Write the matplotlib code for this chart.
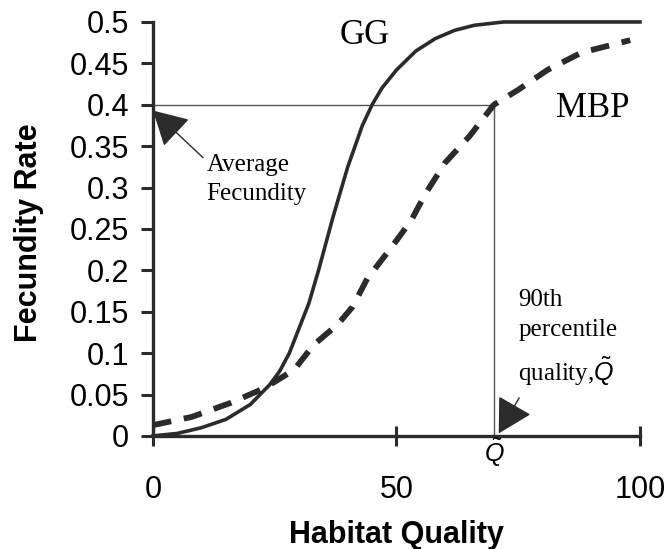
#!/usr/bin/env python3
import matplotlib

matplotlib.use("Agg")
import matplotlib.pyplot as plt

# fecundity vs habitat quality, two models
quality_gg = [0, 5, 10, 15, 20, 24, 26, 28, 30, 32, 34, 37, 40, 43, 45, 47, 50, 54, 58, 62, 66, 72, 80, 90, 100]
fecund_gg = [0.0, 0.003, 0.01, 0.02, 0.038, 0.062, 0.078, 0.1, 0.13, 0.16, 0.2, 0.265, 0.325, 0.375, 0.4,
             0.42, 0.442, 0.465, 0.48, 0.49, 0.496, 0.5, 0.5, 0.5, 0.5]

quality_mbp = [0, 8, 16, 23, 29, 33, 38, 41, 44, 49, 53, 56, 60, 65, 70, 75, 81, 88, 98]
fecund_mbp = [0.013, 0.023, 0.04, 0.058, 0.08, 0.11, 0.135, 0.156, 0.19, 0.228, 0.26, 0.293, 0.33,
              0.362, 0.4, 0.418, 0.442, 0.463, 0.478]

avg_fecundity = 0.4
q90 = 70

xticks = [0, 50, 100]
yticks = [0, 0.05, 0.1, 0.15, 0.2, 0.25, 0.3, 0.35, 0.4, 0.45, 0.5]
ytick_labels = ["0", "0.05", "0.1", "0.15", "0.2", "0.25", "0.3", "0.35", "0.4", "0.45", "0.5"]

plt.rcParams["font.family"] = ["Liberation Sans", "DejaVu Sans"]
plt.rcParams["mathtext.fontset"] = "custom"
plt.rcParams["mathtext.it"] = "Liberation Sans:italic"
plt.rcParams["mathtext.rm"] = "Liberation Sans"

fig = plt.figure(figsize=(6.68, 5.49), dpi=100)
ax = fig.add_axes([0.229, 0.206, 0.729, 0.754])

ink = "#2b2b2b"

# reference lines: average fecundity and the 90th percentile quality
ax.plot([0, q90], [avg_fecundity, avg_fecundity], color="#555555", lw=1.0)
ax.plot([q90, q90], [avg_fecundity, 0], color="#555555", lw=1.0)

ax.plot(quality_gg, fecund_gg, color=ink, lw=2.6, clip_on=False, zorder=3)
ax.plot(quality_mbp, fecund_mbp, color=ink, lw=4.2, dashes=(3.2, 2.2),
        clip_on=False, zorder=3)

ax.set_xlim(0, 100)
ax.set_ylim(0, 0.5)

for side in ("top", "right"):
    ax.spines[side].set_visible(False)
for side in ("left", "bottom"):
    ax.spines[side].set_linewidth(2.4)
    ax.spines[side].set_color(ink)

ax.set_xticks(xticks)
ax.set_yticks(yticks)
ax.set_yticklabels(ytick_labels)
ax.tick_params(axis="x", direction="inout", length=14, width=2.2, color=ink,
               labelsize=22, pad=21)
ax.tick_params(axis="y", direction="out", length=9, width=2.2, color=ink,
               labelsize=22, pad=8)

ax.set_xlabel("Habitat Quality", fontsize=22, fontweight="bold")
ax.set_ylabel("Fecundity Rate", fontsize=22, fontweight="bold", va="center")
ax.xaxis.set_label_coords(0.5, -0.203)
ax.yaxis.set_label_coords(-0.255, 0.49)

serif = ["Liberation Serif", "DejaVu Serif"]
ax.text(43.5, 0.484, "GG", family=serif, fontsize=25, ha="center", va="center")
ax.text(90.3, 0.396, "MBP", family=serif, fontsize=25, ha="center", va="center")

ax.text(11, 0.31, "Average\nFecundity", family=serif, fontsize=18,
        ha="left", va="center", linespacing=1.4)
ax.text(75, 0.118, "90th\npercentile\nquality," + r"$\tilde{Q}$", family=serif,
        fontsize=18, ha="left", va="center", linespacing=1.5)

# Q-tilde marker under the axis
ax.text(q90, -0.02, r"$\tilde{Q}$", fontsize=18, ha="center", va="center")

arrow = dict(arrowstyle="-|>,head_length=0.9,head_width=0.5", color=ink,
             lw=1.0, mutation_scale=24, shrinkA=0, shrinkB=0)
ax.annotate("", xy=(0, 0.393), xytext=(10.3, 0.336), arrowprops=arrow,
            annotation_clip=False)
ax.annotate("", xy=(71, 0.003), xytext=(75.2, 0.046), arrowprops=arrow,
            annotation_clip=False)

fig.savefig("out.png", dpi=100)
